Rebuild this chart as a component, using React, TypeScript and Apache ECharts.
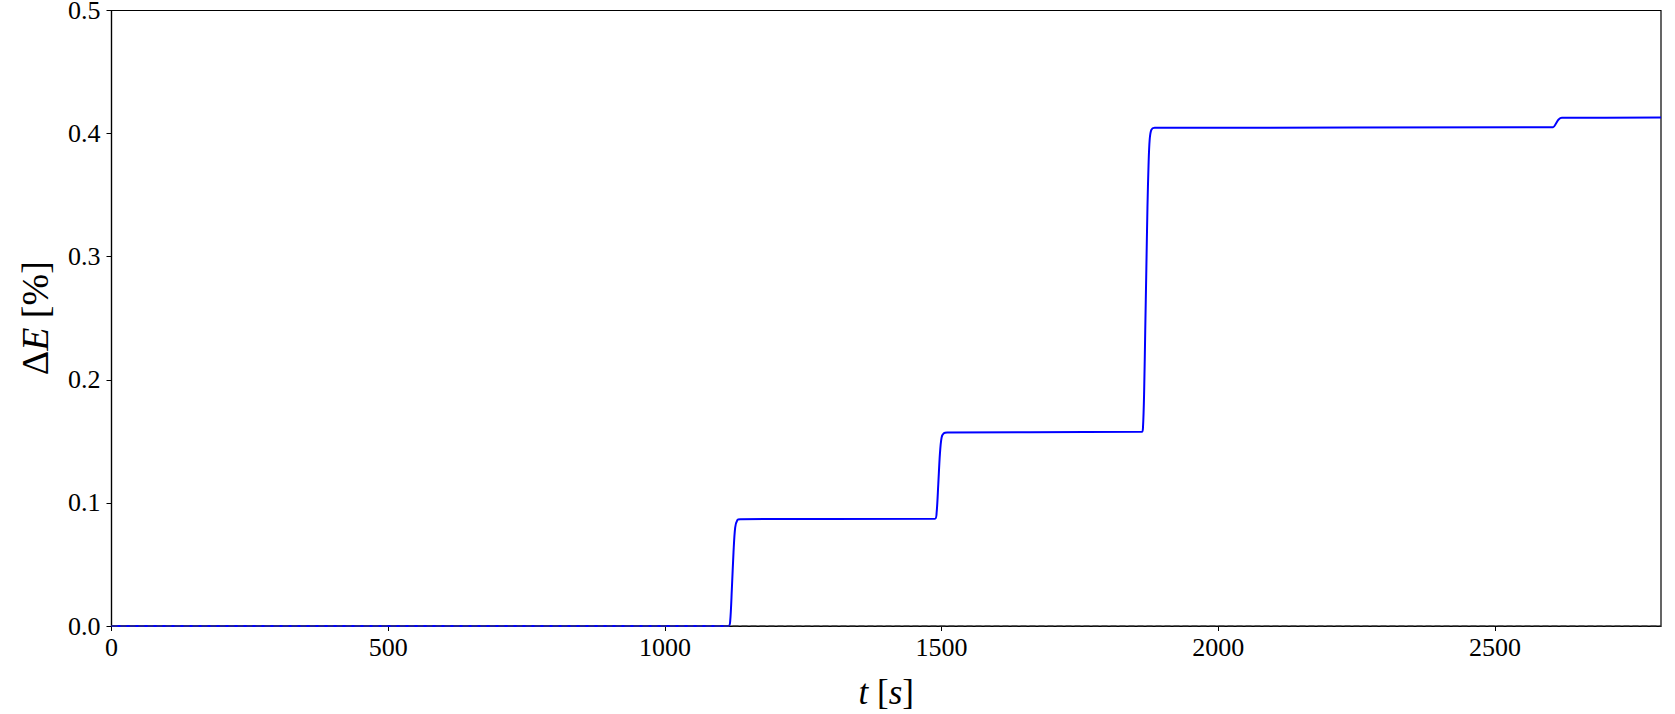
import React, { useEffect, useRef } from "react";
import * as echarts from "echarts";

// Time [s] and energy change [%]
const timeS: number[] = [
  0, 1115, 1118, 1121, 1124, 1127, 1131, 1136,
  1488, 1491, 1494, 1497, 1500, 1504, 1510,
  1862, 1864, 1866, 1868, 1870, 1872, 1874, 1876, 1879, 1885,
  2605, 2610, 2615, 2621, 2800,
];
const deltaE: number[] = [
  0, 0, 0.004, 0.03, 0.06, 0.08, 0.0862, 0.0868,
  0.0872, 0.092, 0.115, 0.14, 0.153, 0.1565, 0.1572,
  0.1578, 0.162, 0.19, 0.24, 0.29, 0.34, 0.375, 0.395, 0.403, 0.4047,
  0.4052, 0.408, 0.4115, 0.4128, 0.413,
];
const refT: number[] = [0, 2800];
const refE: number[] = [0, 0];

const xTicks: number[] = [0, 500, 1000, 1500, 2000, 2500];
const yTicks: number[] = [0, 0.1, 0.2, 0.3, 0.4, 0.5];

const FONT = "'Liberation Serif', 'DejaVu Serif', serif";

export default function App() {
  const ref = useRef<HTMLDivElement>(null);
  useEffect(() => {
    if (!ref.current) return;
    const chart = echarts.init(ref.current, undefined, { renderer: "svg" });
    const mainData = timeS.map((t, i) => [t, deltaE[i]]);
    const refData = refT.map((t, i) => [t, refE[i]]);
    chart.setOption({
      animation: false,
      backgroundColor: "#ffffff",
      grid: {
        left: 111.5,
        right: 14,
        top: 10.5,
        bottom: 88,
        containLabel: false,
        outerBoundsMode: "none",
        show: true,
        borderColor: "#000",
        borderWidth: 1.2,
        backgroundColor: "transparent",
      },
      xAxis: {
        type: "value",
        min: 0,
        max: 2800,
        interval: 500,
        name: "{i|t}{n| [}{i|s}{n|]}",
        nameLocation: "middle",
        nameGap: 50,
        nameTextStyle: {
          rich: {
            i: { fontFamily: FONT, fontSize: 35, lineHeight: 32, fontStyle: "italic", color: "#000" },
            n: { fontFamily: FONT, fontSize: 35, lineHeight: 32, color: "#000" },
          },
        },
        axisLine: { show: true, onZero: false, lineStyle: { color: "#000", width: 1.2 } },
        axisTick: { show: true, inside: false, length: 5, lineStyle: { color: "#000", width: 1 } },
        axisLabel: {
          show: true,
          margin: 8,
          fontFamily: FONT,
          fontSize: 26,
          color: "#000",
          showMaxLabel: false,
          formatter: (v: number) => (xTicks.includes(v) ? String(v) : ""),
        },
        splitLine: { show: false },
      },
      yAxis: {
        type: "value",
        min: 0,
        max: 0.5,
        interval: 0.1,
        name: "{n|Δ}{i|E}{n| [%]}",
        nameLocation: "middle",
        nameGap: 58,
        nameRotate: 90,
        nameTextStyle: {
          rich: {
            i: { fontFamily: FONT, fontSize: 38, fontStyle: "italic", color: "#000" },
            n: { fontFamily: FONT, fontSize: 38, color: "#000" },
          },
        },
        axisLine: { show: true, lineStyle: { color: "#000", width: 1.2 } },
        axisTick: { show: true, inside: false, length: 5, lineStyle: { color: "#000", width: 1 } },
        axisLabel: {
          show: true,
          margin: 11,
          fontFamily: FONT,
          fontSize: 26,
          lineHeight: 20,
          color: "#000",
          formatter: (v: number) => {
            const m = yTicks.find((t) => Math.abs(t - v) < 1e-9);
            return m === undefined ? "" : m.toFixed(1);
          },
        },
        splitLine: { show: false },
      },
      series: [
        {
          type: "line",
          data: mainData,
          showSymbol: false,
          symbol: "none",
          smooth: 0.3,
          lineStyle: { color: "#0000ff", width: 2 },
          z: 2,
        },
        {
          type: "line",
          data: refData,
          showSymbol: false,
          symbol: "none",
          lineStyle: { color: "#404040", width: 1.5, type: [6, 3], opacity: 0.8 },
          z: 3,
        },
      ],
    });
    return () => chart.dispose();
  }, []);
  return (
    <div
      ref={ref}
      style={{ position: "fixed", left: 0, top: 0, width: 1675, height: 714, background: "#fff" }}
    />
  );
}
